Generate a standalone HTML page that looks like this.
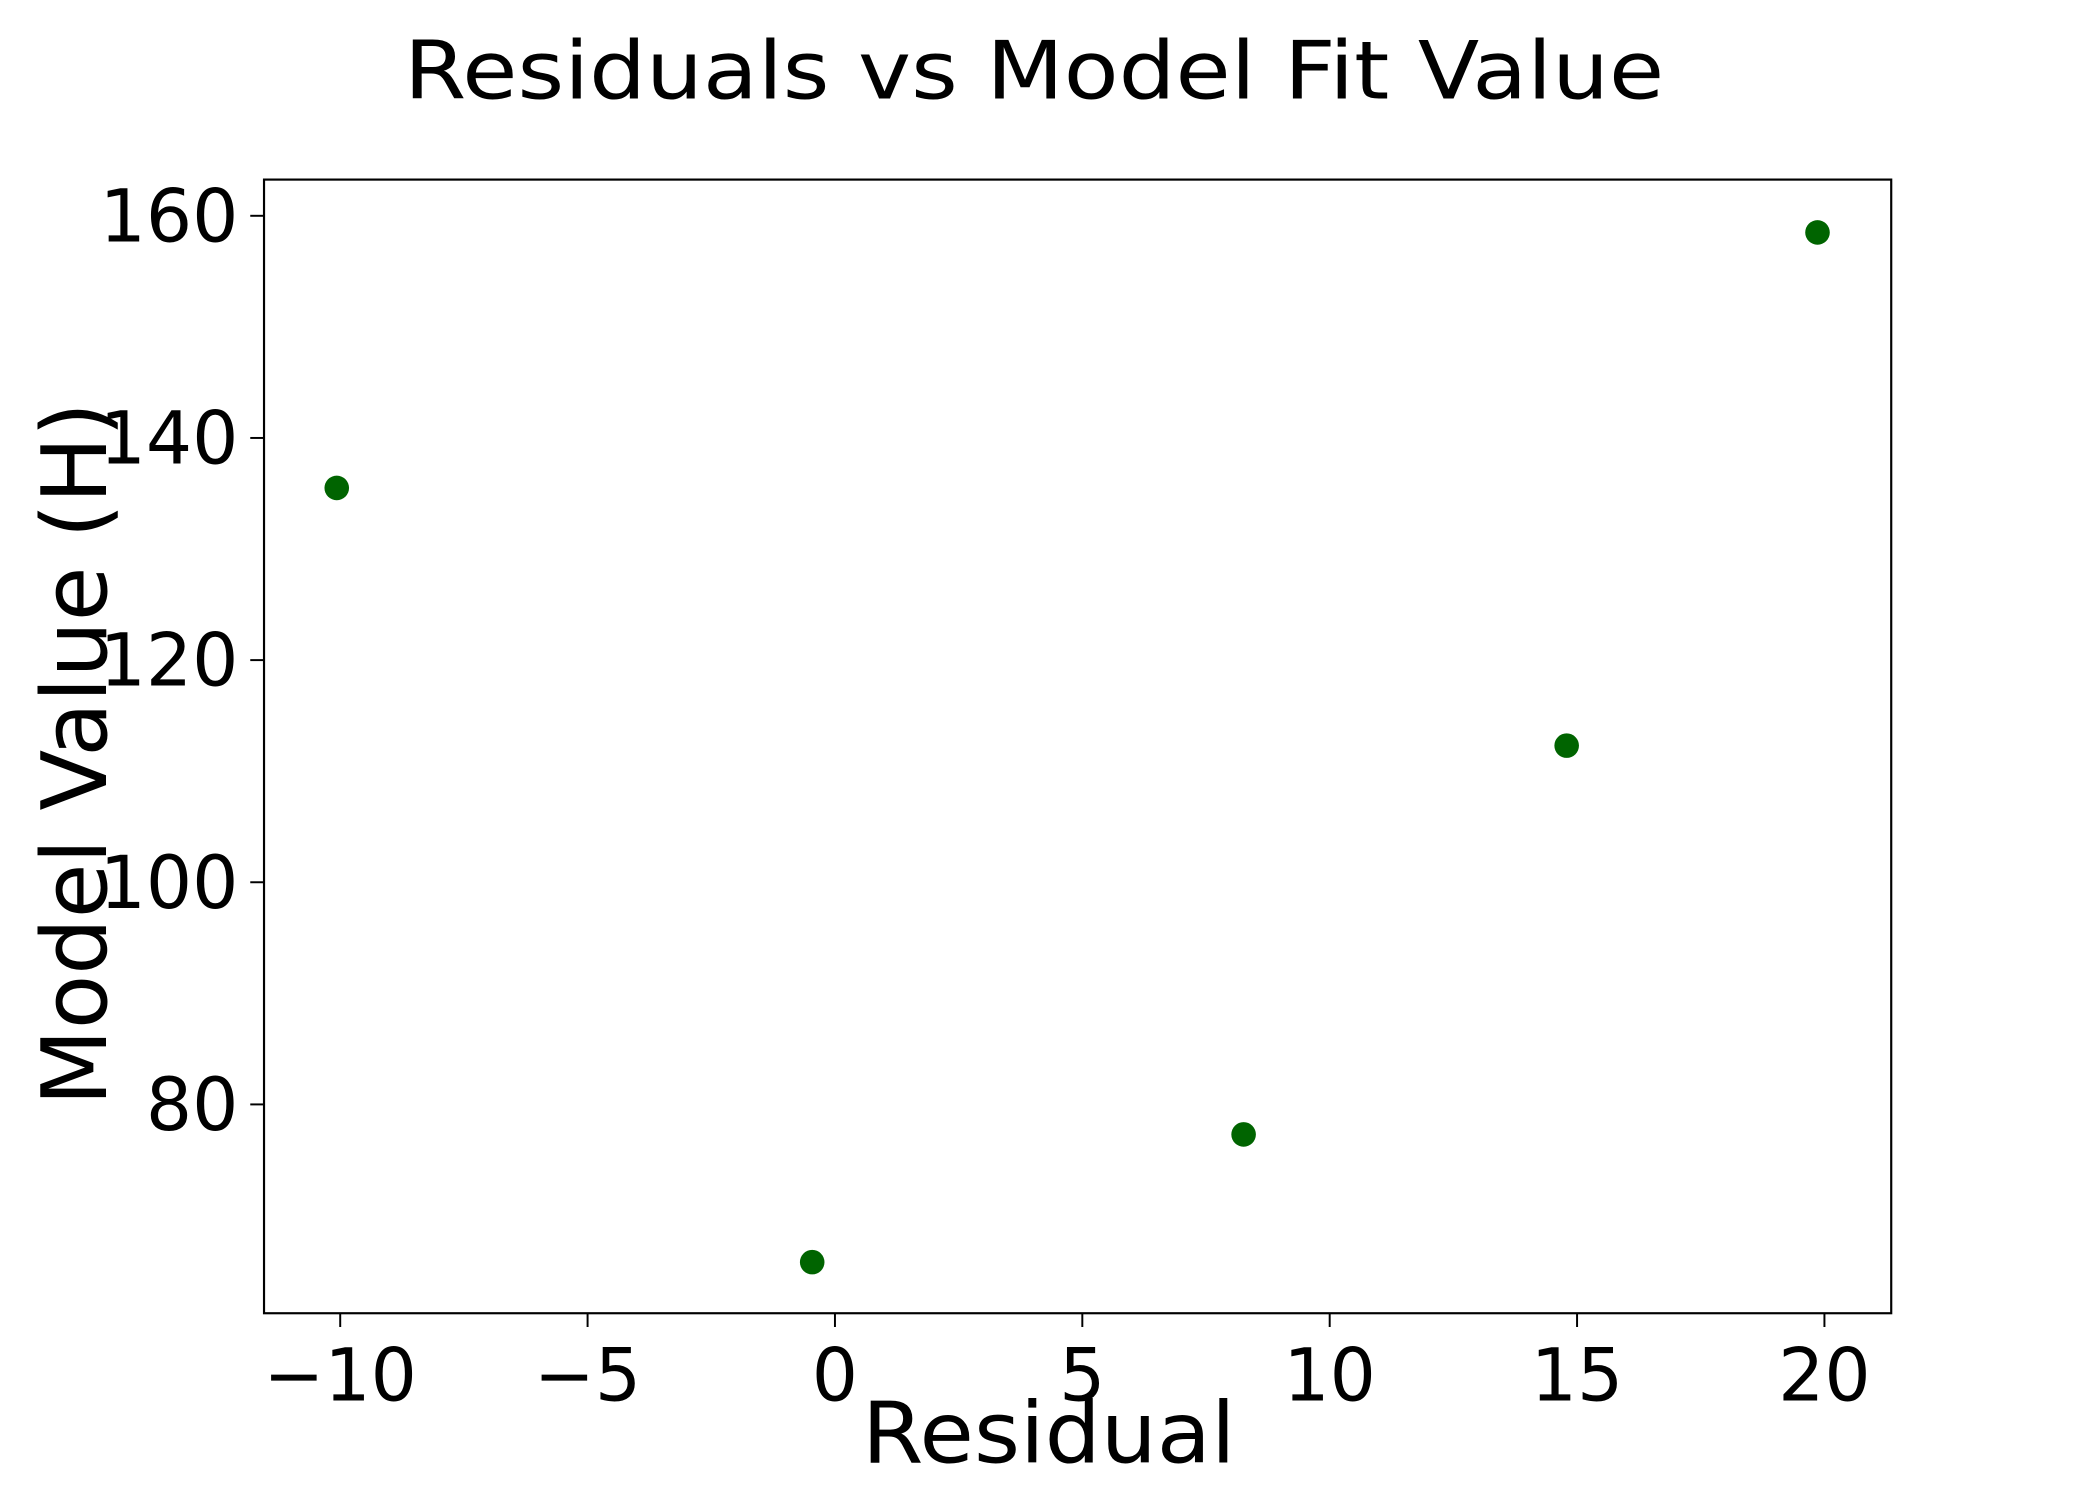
<!DOCTYPE html>
<html><head><meta charset="utf-8"><style>html,body{margin:0;padding:0;background:#fff}svg{display:block}text{font-family:"DejaVu Sans","Liberation Sans",sans-serif;fill:#000}</style></head>
<body>
<svg id="chart" width="2100" height="1500" viewBox="0 0 2136 1526" preserveAspectRatio="xMinYMin meet" xmlns="http://www.w3.org/2000/svg">
<rect width="2136" height="1526" fill="#fff"/>
<text x="1052" y="100" font-size="82" text-anchor="middle" textLength="1282" lengthAdjust="spacingAndGlyphs">Residuals vs Model Fit Value</text>
<g id="axes"></g>
<text x="1067" y="1488" font-size="86" text-anchor="middle" textLength="380" lengthAdjust="spacingAndGlyphs">Residual</text>
<text transform="translate(108,767) rotate(-90)" font-size="92" text-anchor="middle" textLength="716" lengthAdjust="spacingAndGlyphs">Model Value (H)</text>
</svg>
<script>
const residuals = [-10.07, -0.46, 8.26, 14.79, 19.86];
const modelValues = [135.5, 65.8, 77.3, 112.3, 158.5];
const xTicks = [-10, -5, 0, 5, 10, 15, 20];
const yTicks = [80, 100, 120, 140, 160];

const L=268.6,R=1924,T=182.7,B=1336;
const xMin=-11.54,xMax=21.35,yMin=61.2,yMax=163.26;
const sx=v=>L+(v-xMin)/(xMax-xMin)*(R-L);
const sy=v=>B-(v-yMin)/(yMax-yMin)*(B-T);
const NS="http://www.w3.org/2000/svg";
const g=document.getElementById('axes');
function mk(tag,attrs){const e=document.createElementNS(NS,tag);for(const k in attrs)e.setAttribute(k,attrs[k]);g.appendChild(e);return e;}

const frame=mk('rect',{x:L,y:T,width:R-L,height:B-T,fill:'none',stroke:'#000','stroke-width':2.2});



xTicks.forEach(t=>{
  const x=sx(t);
  const tk=mk('line',{x1:x,x2:x,y1:B,y2:B+14,stroke:'#000','stroke-width':2});
  
  
  const lb=mk('text',{x:x,y:1425,'font-size':74,'text-anchor':'middle'});
  lb.textContent=t<0?'\u2212'+Math.abs(t):String(t);
  
  
});
yTicks.forEach(t=>{
  const y=sy(t);
  const tk=mk('line',{x1:L-14,x2:L,y1:y,y2:y,stroke:'#000','stroke-width':2});
  
  
  const lb=mk('text',{x:L-26,y:y+26,'font-size':74,'text-anchor':'end'});
  lb.textContent=String(t);
  
  
});
residuals.forEach((r,i)=>{
  const c=mk('circle',{cx:sx(r),cy:sy(modelValues[i]),r:12.5,fill:'#006400'});
  
  
});
</script>
</body></html>
